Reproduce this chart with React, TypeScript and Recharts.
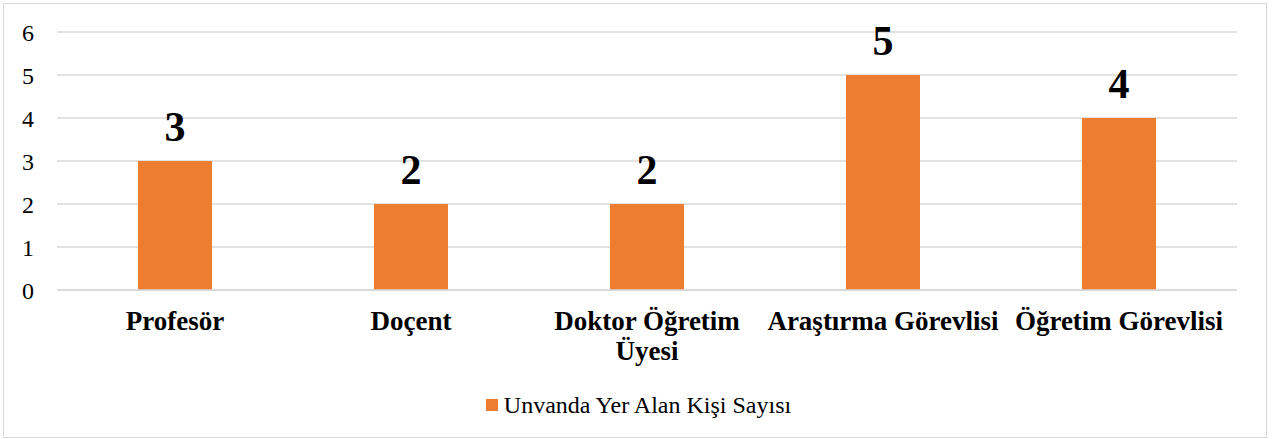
import React from "react";
import { BarChart, Bar, XAxis, YAxis, CartesianGrid, Legend, LabelList } from "recharts";

const categories = ["Profesör", "Doçent", "Doktor Öğretim Üyesi", "Araştırma Görevlisi", "Öğretim Görevlisi"];
const values = [3, 2, 2, 5, 4];
const yTicks = [0, 1, 2, 3, 4, 5, 6];
const seriesName = "Unvanda Yer Alan Kişi Sayısı";

const data = categories.map((c, i) => ({ name: c, value: values[i] }));

const FONT = '"Liberation Serif", "Times New Roman", serif';
const ORANGE = "#ED7D31";
const TICK_SIZE = 27;
const TICK_FONT = `700 ${TICK_SIZE}px ${FONT}`;
const BAND = 236;

function wrapLabel(label: string, maxWidth: number): string[] {
  const ctx = document.createElement("canvas").getContext("2d");
  if (!ctx) return [label];
  ctx.font = TICK_FONT;
  const words = label.split(" ");
  const lines: string[] = [];
  let cur = "";
  for (const w of words) {
    const test = cur ? cur + " " + w : w;
    if (cur && ctx.measureText(test).width > maxWidth) {
      lines.push(cur);
      cur = w;
    } else {
      cur = test;
    }
  }
  if (cur) lines.push(cur);
  return lines;
}

const XTick = (props: any) => {
  const { x, y, payload } = props;
  const lines = wrapLabel(String(payload.value), BAND);
  return (
    <text
      x={x}
      y={y + 40}
      textAnchor="middle"
      fill="#000"
      fontFamily={FONT}
      fontSize={TICK_SIZE}
      fontWeight={700}
    >
      {lines.map((l, i) => (
        <tspan key={i} x={x} dy={i === 0 ? 0 : 30}>
          {l}
        </tspan>
      ))}
    </text>
  );
};

const LegendContent = () => (
  <div
    style={{
      width: 1277,
      height: 40,
      display: "flex",
      alignItems: "center",
      justifyContent: "center",
      fontFamily: FONT,
      fontSize: 24,
      color: "#000",
    }}
  >
    <span style={{ display: "inline-block", width: 12, height: 12, background: ORANGE, marginRight: 6 }} />
    <span style={{ lineHeight: "24px" }}>{seriesName}</span>
  </div>
);

export default function App() {
  return (
    <div style={{ position: "fixed", left: 0, top: 0, width: 1277, height: 439, background: "#fff" }}>
      <div
        style={{
          position: "absolute",
          left: 3,
          top: 3,
          width: 1262,
          height: 433,
          border: "1.5px solid #d9d9d9",
        }}
      />
      <div style={{ position: "absolute", left: 0, top: 0 }}>
        <BarChart
          width={1277}
          height={439}
          data={data}
          margin={{ top: 32, right: 40, bottom: 14, left: 0 }}
        >
          <CartesianGrid vertical={false} stroke="#d9d9d9" strokeWidth={1.5} />
          <XAxis
            dataKey="name"
            height={95}
            interval={0}
            tickLine={false}
            tickSize={0}
            tickMargin={0}
            axisLine={{ stroke: "#d9d9d9", strokeWidth: 1.5 }}
            tick={<XTick />}
          />
          <YAxis
            width={57}
            domain={[0, 6]}
            ticks={yTicks}
            axisLine={false}
            tickLine={false}
            tickSize={0}
            tickMargin={23}
            tick={{ fontFamily: FONT, fontSize: 24, fill: "#000" }}
          />
          <Legend
            verticalAlign="bottom"
            height={40}
            wrapperStyle={{ left: 0, width: 1277, height: 40 }}
            content={<LegendContent />}
          />
          <Bar dataKey="value" name={seriesName} fill={ORANGE} barSize={74} isAnimationActive={false}>
            <LabelList
              dataKey="value"
              position="top"
              offset={20}
              fill="#000"
              fontFamily={FONT}
              fontSize={42}
              fontWeight={700}
            />
          </Bar>
        </BarChart>
      </div>
    </div>
  );
}
